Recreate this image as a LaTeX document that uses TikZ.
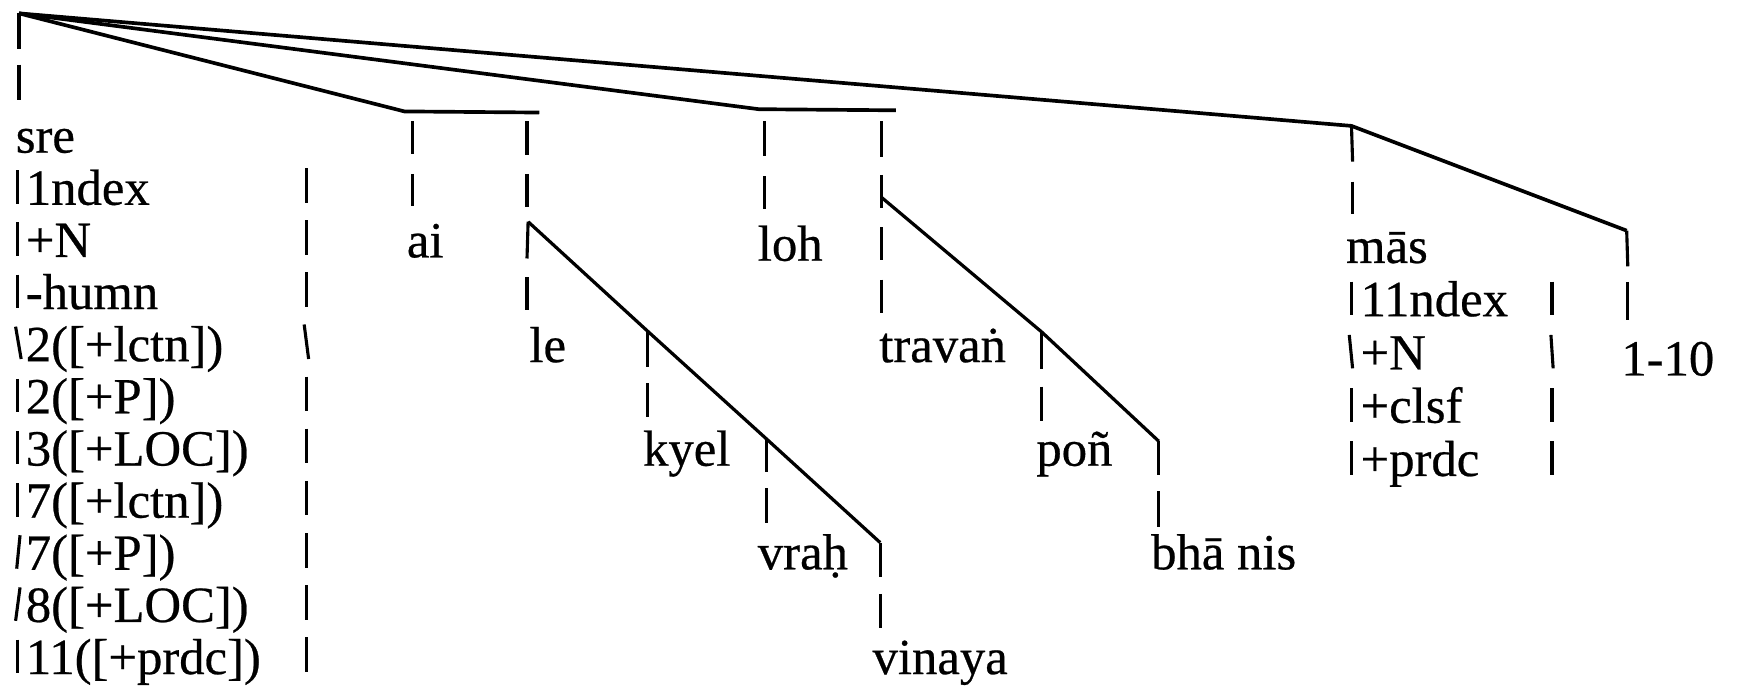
\documentclass[tikz,border=0pt]{standalone}
\usepackage{fontspec}
\setmainfont{Liberation Serif}
\newfontfamily\lbfamily{Liberation Serif}[FakeBold=0.5]
\newcommand\lbfont{\lbfamily\fontsize{45.5}{47}\selectfont}
\tikzset{
  treeline/.style={line width=3.3pt, line join=miter},
  branch/.style={line width=2.9pt},
  tick/.style={line width=2.8pt},
  lbl/.style={inner sep=0pt, anchor=base west, font=\lbfont}
}
\newcommand\tk[3]{\draw[tick] (#1,#2) -- (#1,#3);}
\begin{document}
\begin{tikzpicture}[x=1pt,y=-1pt]
\useasboundingbox (0,0) rectangle (1568,619);
% junction points
\coordinate (root) at (17,12);
\coordinate (b1l) at (363,100);
\coordinate (b1r) at (484,101);
\coordinate (b2l) at (681,98);
\coordinate (b2r) at (804,99);
\coordinate (m) at (1213,113);
\coordinate (t) at (1460,207);
\coordinate (le1) at (474,199);
\coordinate (k1) at (581,297);
\coordinate (v1) at (688,394);
\coordinate (vi1) at (790,487);
\coordinate (tr1) at (791,177);
\coordinate (p1) at (935,298);
\coordinate (bh1) at (1040,396);
% main lines
\draw[treeline] (root) -- (b1l) -- (b1r);
\draw[treeline] (root) -- (b2l) -- (b2r);
\draw[treeline] (root) -- (m) -- (t);
\draw[branch] (le1) -- (k1) -- (v1) -- (vi1);
\draw[branch] (tr1) -- (p1) -- (bh1);
% root column
\draw[tick] (root) -- (17,44);
\tk{17}{58}{90}
% sre column
\node[lbl] (sre) at (14,137) {sre};
\foreach \k/\lab in {1/1ndex,2/+N,3/-humn,4/2({[}+lctn{]}),5/2({[}+P{]}),6/3({[}+LOC{]}),7/7({[}+lctn{]}),8/7({[}+P{]}),9/8({[}+LOC{]}),10/11({[}+prdc{]})}{
  \pgfmathsetmacro\by{137+46.8*\k}
  \node[lbl] (s\k) at (23,\by) {\lab};
}
% left ticks of sre column
\foreach \k in {1,2,3,5,6,7,10}{
  \pgfmathsetmacro\by{137+46.8*\k}
  \draw[tick] (16,\by-31) -- (16,\by-1);
}
\pgfmathsetmacro\by{137+46.8*4}\draw[tick] (14,\by-31) -- (19,\by-2);
\pgfmathsetmacro\by{137+46.8*8}\draw[tick] (18,\by-31) -- (15,\by-1);
\pgfmathsetmacro\by{137+46.8*9}\draw[tick] (18,\by-31) -- (14,\by-1);
% right ticks of sre column
\foreach \k in {1,2,3,5,6,7,8,9,10}{
  \pgfmathsetmacro\by{137+46.8*\k}
  \draw[tick] (275,\by-33) -- (275,\by-2);
}
\pgfmathsetmacro\by{137+46.8*4}\draw[tick] (273,\by-33) -- (277,\by-2);
% ai column
\tk{370}{109}{138}
\tk{370}{156}{185}
\node[lbl] (ai) at (365,231) {ai};
% le column
\tk{473}{109}{139}
\tk{473}{156}{186}
\draw[tick] (le1) -- (473,232);
\tk{473}{249}{278}
\node[lbl] (le) at (475,325) {le};
% kyel column
\draw[tick] (k1) -- (581,329);
\tk{581}{344}{374}
\node[lbl] (kyel) at (577,418) {kyel};
% vrah column
\draw[tick] (v1) -- (688,424);
\tk{688}{438}{469}
\node[lbl] (vrah) at (680,511) {vraḥ};
% vinaya column
\draw[tick] (vi1) -- (790,518);
\tk{790}{533}{564}
\node[lbl] (vinaya) at (783,605) {vinaya};
% loh column
\tk{686}{109}{140}
\tk{686}{158}{188}
\node[lbl] (loh) at (680,234) {loh};
% travan column
\tk{791}{109}{141}
\tk{791}{157}{187}
\tk{791}{204}{233}
\tk{791}{251}{281}
\node[lbl] (travan) at (789,325) {travaṅ};
% pon column
\draw[tick] (p1) -- (935,331);
\tk{935}{347}{378}
\node[lbl] (pon) at (930,418) {poñ};
% bha nis column
\draw[tick] (bh1) -- (1040,426);
\tk{1040}{441}{473}
\node[lbl] (bha) at (1033,511) {bhā nis};
% mas column
\draw[tick] (m) -- (1214,145);
\tk{1214}{163}{192}
\node[lbl] (mas) at (1208,236) {mās};
\foreach \k/\lab in {1/11ndex,2/+N,3/+clsf,4/+prdc}{
  \pgfmathsetmacro\by{236+47.8*\k}
  \node[lbl] (m\k) at (1221,\by) {\lab};
}
\foreach \k in {1,3,4}{
  \pgfmathsetmacro\by{236+47.8*\k}
  \draw[tick] (1213,\by-31) -- (1213,\by-1);
  \draw[tick] (1393,\by-31) -- (1393,\by-1);
}
\pgfmathsetmacro\by{236+47.8*2}
\draw[tick] (1211,\by-31) -- (1214,\by-1);
\draw[tick] (1392,\by-31) -- (1394,\by-1);
% 1-10 column
\draw[tick] (t) -- (1461,239);
\tk{1461}{253}{287}
\node[lbl] (num) at (1455,337) {1-10};
\end{tikzpicture}
\end{document}
